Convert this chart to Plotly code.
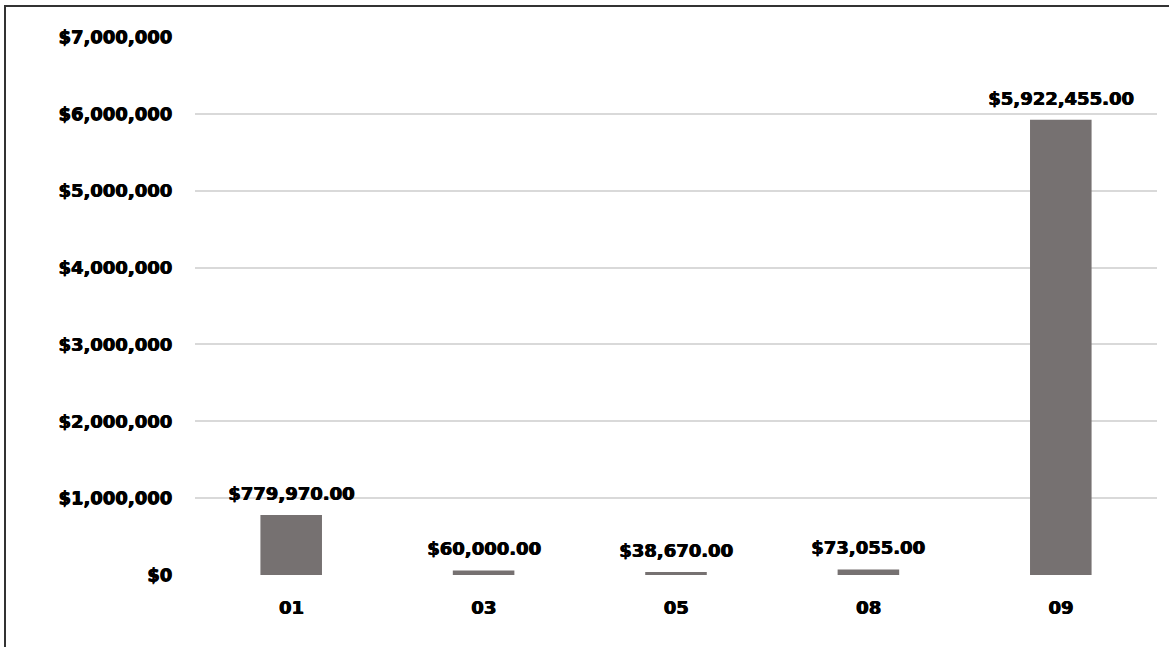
import plotly.graph_objects as go

categories = ["01", "03", "05", "08", "09"]
values = [779970.00, 60000.00, 38670.00, 73055.00, 5922455.00]
value_labels = ["$779,970.00", "$60,000.00", "$38,670.00", "$73,055.00", "$5,922,455.00"]
tick_vals = [0, 1e6, 2e6, 3e6, 4e6, 5e6, 6e6, 7e6]
tick_text = ["$0", "$1,000,000", "$2,000,000", "$3,000,000", "$4,000,000",
             "$5,000,000", "$6,000,000", "$7,000,000"]

FONT = "DejaVu Sans"
FS = 18
SHADOW = "0.8px 0 0 #000, 0 0.4px 0 #000"
W = 1169
H = 647
L, R, T, B = 195, 12, 37, 72


def font():
    return dict(family=FONT, size=FS, color="#000", weight="bold", shadow=SHADOW)


fig = go.Figure(go.Bar(x=categories, y=values, marker_color="#767171",
                       marker_line_width=0, hoverinfo="skip"))

for i, (v, t) in enumerate(zip(values, value_labels)):
    fig.add_annotation(x=i, y=v, text=t, showarrow=False, yanchor="bottom",
                       yshift=9, font=font())

pw = W - L - R
ph = H - T - B
fig.add_shape(type="rect", xref="paper", yref="paper",
              x0=(5 - L) / pw, x1=1.2, y0=-0.3, y1=1 + (T - 6) / ph,
              line=dict(color="#333333", width=2), layer="above")

fig.update_layout(
    width=W, height=H,
    margin=dict(l=L, r=R, t=T, b=B, pad=0),
    paper_bgcolor="white", plot_bgcolor="white",
    bargap=0.68,
    showlegend=False,
    font=dict(family=FONT, size=FS, color="#000", weight="bold"),
    xaxis=dict(type="category", range=[-0.5, len(categories) - 0.5],
               showgrid=False, showline=False, ticks="",
               ticklabelstandoff=20, tickfont=font()),
    yaxis=dict(range=[0, 7e6], tickvals=tick_vals, ticktext=tick_text,
               showgrid=True, gridcolor="#d9d9d9", gridwidth=1.5, zeroline=False,
               showline=False, ticks="", ticklabelstandoff=22, tickfont=font()),
)

fig.write_html("out.html", config={"displayModeBar": False},
               post_script="document.body.style.margin='0';")
